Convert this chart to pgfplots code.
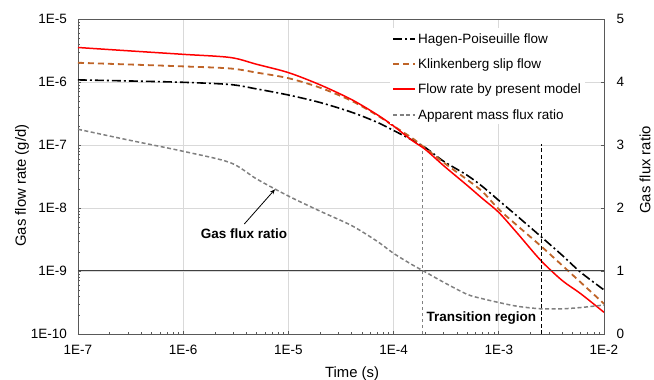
\documentclass[border=0pt]{standalone}
\usepackage{pgfplots}
\pgfplotsset{compat=1.18}
\usetikzlibrary{arrows.meta}
\usepackage{fontspec}
\setmainfont{Liberation Sans}
\definecolor{brownK}{RGB}{191,100,40}
\definecolor{redM}{RGB}{255,0,0}
\definecolor{grayR}{RGB}{128,128,128}
\definecolor{gridc}{RGB}{217,217,217}
\definecolor{axc}{RGB}{89,89,89}
\newcommand{\tickfont}{\fontsize{13.5bp}{16bp}\selectfont}
\newcommand{\labfont}{\fontsize{14.85bp}{17bp}\selectfont}
\tikzset{
  hpstyle/.style={draw=black, line width=1.6bp, dash pattern=on 9bp off 3bp on 2bp off 3bp},
  klstyle/.style={draw=brownK, line width=1.8bp, dash pattern=on 6bp off 4bp},
  pmstyle/.style={draw=redM, line width=1.5bp, solid},
  grstyle/.style={draw=grayR, line width=1.5bp, dash pattern=on 4bp off 2.5bp},
  legtext/.style={anchor=base west, inner sep=0pt, font=\tickfont},
}
\begin{document}
\begin{tikzpicture}
\path[use as bounding box] (-78bp,-46bp) rectangle (576bp,334bp);
\begin{axis}[
  scale only axis, width=526bp, height=315bp,
  xmode=log, ymode=log,
  xmin=1e-7, xmax=1e-2, ymin=1e-10, ymax=1e-5,
  xtick={1e-7,1e-6,1e-5,1e-4,1e-3,1e-2},
  xticklabels={1E-7,1E-6,1E-5,1E-4,1E-3,1E-2},
  ytick={1e-10,1e-9,1e-8,1e-7,1e-6,1e-5},
  yticklabels={1E-10,1E-9,1E-8,1E-7,1E-6,1E-5},
  xtick pos=left, ytick pos=left,
  tick align=inside,
  major tick length=3bp, minor tick length=2.5bp,
  every tick/.style={axc, line width=0.6bp},
  axis line style={axc, line width=0.9bp},
  grid=major, major grid style={gridc, line width=0.8bp},
  tick label style={font=\tickfont},
  xticklabel style={inner sep=0pt, anchor=north, yshift=-11bp},
  yticklabel style={inner sep=0pt, anchor=east, xshift=-11bp},
  xlabel={Time (s)}, ylabel={Gas flow rate (g/d)},
  every axis x label/.style={at={([yshift=-43.6bp]axis description cs:0.521,0)}, anchor=base, font=\labfont, inner sep=0pt},
  every axis y label/.style={at={([xshift=-52bp]axis description cs:0,0.471)}, rotate=90, anchor=base, font=\labfont, inner sep=0pt},
]
\addplot[hpstyle, smooth] coordinates {
(1e-7,1.08e-6) (3e-7,1.04e-6) (1e-6,9.89e-7) (2.8e-6,9.12e-7) (5e-6,7.76e-7) (1e-5,6.22e-7) (2e-5,4.73e-7) (4e-5,3.31e-7) (7e-5,2.29e-7) (1e-4,1.70e-7) (1.5e-4,1.20e-7) (2e-4,9.12e-8) (3e-4,5.50e-8) (5e-4,3.31e-8) (7e-4,2.19e-8) (1e-3,1.32e-8) (1.5e-3,7.41e-9) (2.5e-3,3.55e-9) (4e-3,1.78e-9) (6e-3,9.55e-10) (1e-2,5.01e-10)};
\addplot[klstyle, smooth] coordinates {
(1e-7,2.02e-6) (3e-7,1.90e-6) (1e-6,1.77e-6) (2.8e-6,1.64e-6) (5e-6,1.41e-6) (1e-5,1.15e-6) (2e-5,8.13e-7) (4e-5,5.01e-7) (7e-5,2.95e-7) (1e-4,2.0e-7) (1.5e-4,1.29e-7) (2e-4,8.91e-8) (3e-4,5.25e-8) (5e-4,2.82e-8) (7e-4,1.82e-8) (1e-3,9.55e-9) (1.5e-3,5.25e-9) (2.5e-3,2.51e-9) (4e-3,1.23e-9) (6e-3,6.61e-10) (1e-2,3.02e-10)};
\addplot[pmstyle, smooth] coordinates {
(1e-7,3.53e-6) (3e-7,3.13e-6) (1e-6,2.75e-6) (2.8e-6,2.45e-6) (5e-6,1.91e-6) (1e-5,1.41e-6) (2e-5,9.02e-7) (4e-5,5.25e-7) (7e-5,3.02e-7) (1e-4,2.0e-7) (1.5e-4,1.18e-7) (2e-4,8.51e-8) (3e-4,4.68e-8) (5e-4,2.29e-8) (7e-4,1.41e-8) (1e-3,8.51e-9) (1.5e-3,3.98e-9) (2.5e-3,1.48e-9) (4e-3,7.08e-10) (6e-3,4.37e-10) (1e-2,2.21e-10)};
\addplot[grayR, line width=1bp, dash pattern=on 3.5bp off 2.5bp] coordinates {(1.9e-4,1e-10) (1.9e-4,8.9e-8)};
\addplot[black, line width=1bp, dash pattern=on 4bp off 2.5bp] coordinates {(2.56e-3,1e-10) (2.56e-3,1.04e-7)};
\node[font=\bfseries\tickfont, anchor=base, inner sep=0pt] at (axis cs:3.78e-6,3.3e-9) {Gas flux ratio};
\draw[-{Stealth[length=5bp,width=4bp]}, line width=0.8bp] (axis cs:3.81e-6,5.57e-9) -- (axis cs:7.46e-6,1.98e-8);
\node[font=\bfseries\tickfont, anchor=base west, inner sep=0pt] at (axis cs:2.05e-4,1.57e-10) {Transition region};
% legend
\fill[white] (rel axis cs:0.5932,0.6667) rectangle (rel axis cs:0.9639,0.9714);
\draw[hpstyle] (rel axis cs:0.5989,0.9365) -- (rel axis cs:0.6407,0.9365);
\draw[klstyle] (rel axis cs:0.5989,0.8571) -- (rel axis cs:0.6407,0.8571);
\draw[pmstyle] (rel axis cs:0.5989,0.7778) -- (rel axis cs:0.6407,0.7778);
\draw[grstyle] (rel axis cs:0.5989,0.6952) -- (rel axis cs:0.6407,0.6952);
\node[legtext] at (rel axis cs:0.6464,0.9213) {Hagen-Poiseuille flow};
\node[legtext] at (rel axis cs:0.6464,0.8419) {Klinkenberg slip flow};
\node[legtext] at (rel axis cs:0.6464,0.7626) {Flow rate by present model};
\node[legtext] at (rel axis cs:0.6464,0.6800) {Apparent mass flux ratio};
\end{axis}
\begin{axis}[
  scale only axis, width=526bp, height=315bp,
  xmode=log, xmin=1e-7, xmax=1e-2,
  ymin=0, ymax=5,
  axis x line=none, axis y line*=right,
  ytick={0,1,2,3,4,5}, yticklabels={0,1,2,3,4,5},
  tick align=inside, major tick length=3bp,
  every tick/.style={axc, line width=0.6bp},
  axis line style={axc, line width=0.9bp},
  yticklabel style={font=\tickfont, inner sep=0pt, anchor=west, xshift=12.5bp},
  ylabel={Gas flux ratio},
  every axis y label/.style={at={([xshift=46.5bp]axis description cs:1,0.521)}, rotate=90, anchor=base, font=\labfont, inner sep=0pt},
]
\addplot[black!75, line width=1bp] coordinates {(1e-7,1) (1e-2,1)};
\addplot[grstyle, smooth] coordinates {
(1e-7,3.25) (3e-7,3.08) (1e-6,2.90) (2.8e-6,2.72) (5e-6,2.46) (1e-5,2.19) (2e-5,1.95) (4e-5,1.72) (7e-5,1.47) (1e-4,1.28) (1.5e-4,1.10) (2e-4,0.985) (3e-4,0.82) (5e-4,0.63) (7e-4,0.56) (1e-3,0.50) (1.5e-3,0.44) (2.5e-3,0.40) (4e-3,0.40) (6e-3,0.42) (1e-2,0.46)};
\end{axis}
\end{tikzpicture}
\end{document}
